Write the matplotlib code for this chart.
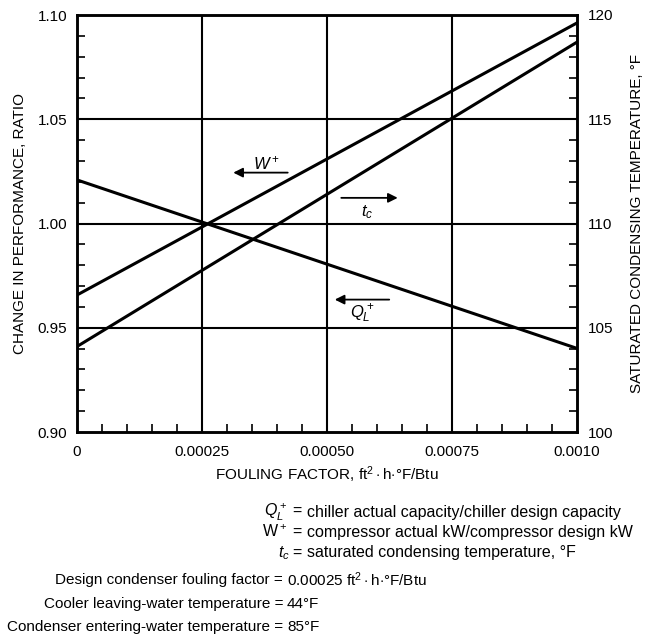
import numpy as np
import matplotlib.pyplot as plt
from matplotlib.ticker import MultipleLocator

plt.rcParams['font.family'] = ['Liberation Sans', 'DejaVu Sans']
plt.rcParams['mathtext.fontset'] = 'custom'
plt.rcParams['mathtext.rm'] = 'Liberation Sans'
plt.rcParams['mathtext.it'] = 'Liberation Sans:italic'

# Datos
fouling = [0.0, 0.001]           # ft2.h.F/Btu
w_plus = [0.9657, 1.0962]        # ratio (eje izquierdo)
q_plus = [1.0209, 0.9401]        # ratio (eje izquierdo)
t_cond = [104.1, 118.7]          # F (eje derecho)

x_ticks = [0, 0.00025, 0.0005, 0.00075, 0.001]
x_labels = ['0', '0.00025', '0.00050', '0.00075', '0.0010']
y_ticks = [0.90, 0.95, 1.00, 1.05, 1.10]
t_ticks = [100, 105, 110, 115, 120]

notes_left = [r'$Q_L^+$ =', r'W$^+$ =', r'$t_c$ =',
              'Design condenser fouling factor =',
              'Cooler leaving-water temperature =',
              'Condenser entering-water temperature =']
notes_right = ['chiller actual capacity/chiller design capacity',
               'compressor actual kW/compressor design kW',
               'saturated condensing temperature, °F',
               r'0.00025 ft$^2\cdot$h$\cdot$°F/Btu',
               '44°F', '85°F']

fig = plt.figure(figsize=(6.45, 6.38), dpi=100)
ax = fig.add_axes([77 / 645, 1 - 432 / 638, 500 / 645, 417 / 638])
ax2 = ax.twinx()

ax.plot(fouling, w_plus, color='black', lw=2.2)
ax.plot(fouling, q_plus, color='black', lw=2.2)
ax2.plot(fouling, t_cond, color='black', lw=2.2)

ax.set_xlim(0, 0.001)
ax.set_ylim(0.90, 1.10)
ax2.set_ylim(100, 120)

# lineas de grilla
for xv in x_ticks[1:-1]:
    ax.axvline(xv, color='black', lw=1.5, zorder=0)
for yv in y_ticks[1:-1]:
    ax.axhline(yv, color='black', lw=1.5, zorder=0)

ax.set_xticks(x_ticks)
ax.set_xticklabels(x_labels)
ax.set_yticks(y_ticks)
ax.set_yticklabels(['%.2f' % v for v in y_ticks])
ax2.set_yticks(t_ticks)
ax.xaxis.set_minor_locator(MultipleLocator(0.00005))
ax.yaxis.set_minor_locator(MultipleLocator(0.01))
ax2.yaxis.set_minor_locator(MultipleLocator(1))

ax.tick_params(which='major', length=0, labelsize=11)
ax.tick_params(axis='x', pad=9)
ax.tick_params(axis='y', pad=7)
ax.tick_params(which='minor', direction='in', length=6, width=1.2)
ax.tick_params(axis='x', which='both', top=False)
ax2.tick_params(which='major', length=0, labelsize=11, pad=8)
ax2.tick_params(which='minor', direction='in', length=6, width=1.2)
for a in (ax, ax2):
    for s in a.spines.values():
        s.set_linewidth(1.8)

ax.set_xlabel(r'FOULING FACTOR, ft$^2\cdot$h$\cdot$°F/Btu', fontsize=11, labelpad=4)
ax.set_ylabel('CHANGE IN PERFORMANCE, RATIO', fontsize=11, labelpad=8)
ax2.set_ylabel('SATURATED CONDENSING TEMPERATURE, °F', fontsize=11, labelpad=12)

# flechas y etiquetas
arr = dict(arrowstyle='-|>', color='black', lw=1.3, mutation_scale=14)
ax.annotate('', xy=(0.000307, 1.0244), xytext=(0.000427, 1.0244), arrowprops=arr)
ax.text(0.00038, 1.029, r'$W^+$', ha='center', va='center', fontsize=12)
ax.annotate('', xy=(0.000647, 1.0123), xytext=(0.000523, 1.0123), arrowprops=arr)
ax.text(0.00058, 1.0056, r'$t_c$', ha='center', va='center', fontsize=12)
ax.annotate('', xy=(0.00051, 0.9635), xytext=(0.00063, 0.9635), arrowprops=arr)
ax.text(0.00057, 0.9567, r'$Q_L^+$', ha='center', va='center', fontsize=12)

# notas al pie
y_notes = [512, 532, 553, 580, 604, 627]
x_eq = [303, 303, 303, 283, 283, 283]
f_notes = [11.5, 11.5, 11.5, 11, 11, 11]
for yl, xe, fs, tl, tr in zip(y_notes, x_eq, f_notes, notes_left, notes_right):
    fig.text(xe / 645, 1 - yl / 638, tl, ha='right', va='center', fontsize=fs)
    fig.text((xe + 4) / 645, 1 - yl / 638, tr, ha='left', va='center', fontsize=fs)

plt.savefig('out.png', dpi=100)
